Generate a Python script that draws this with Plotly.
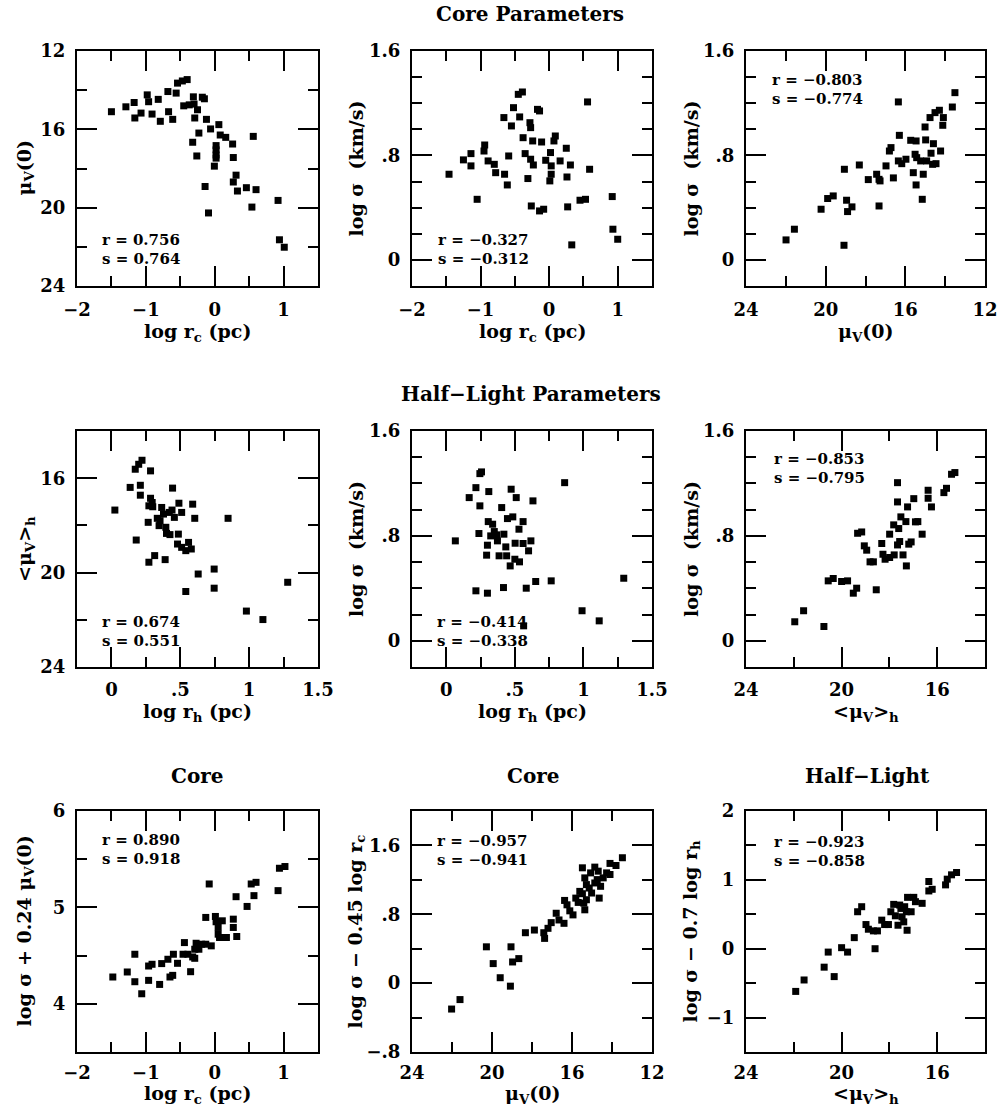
import plotly.graph_objects as go

FONT = "DejaVu Serif"
W, H = 1000, 1109

# ---------------- data ----------------
# Panel 1: log r_c vs mu_V(0)
p1_log_rc = [-1.50, -1.29, -1.17, -1.16, -1.07, -0.98, -0.96, -0.91, -0.82, -0.79, -0.68, -0.67, -0.61,
             -0.56, -0.54, -0.47, -0.40, -0.45, -0.37, -0.31, -0.30, -0.25, -0.29, -0.18, -0.15, -0.12,
             -0.23, -0.32, -0.26, -0.06, 0.06, 0.08, 0.16, 0.02, 0.02, 0.02, 0.02, -0.005, 0.26, 0.27,
             0.31, 0.27, 0.33, 0.46, 0.60, 0.56, -0.14, -0.09, 0.54, 0.92, 0.94, 1.01]
p1_mu0 = [15.10, 14.85, 14.63, 15.42, 15.17, 14.24, 14.59, 15.22, 14.47, 15.59, 14.07, 15.10, 15.49,
          14.15, 13.64, 13.53, 13.46, 14.80, 14.75, 14.34, 14.71, 15.00, 15.42, 14.36, 14.44, 15.49,
          16.19, 16.66, 17.36, 15.98, 15.76, 16.29, 16.41, 16.83, 17.05, 17.31, 17.47, 17.88, 16.75, 17.44,
          18.34, 18.69, 19.15, 18.98, 19.08, 16.36, 18.92, 20.27, 19.97, 19.63, 21.64, 22.02]

# Panel 2: log r_c vs log sigma
p2_log_rc = [-1.46, -1.25, -1.14, -1.14, -1.05, -0.94, -0.95, -0.89, -0.80, -0.78, -0.66, -0.65, -0.61,
             -0.59, -0.55, -0.52, -0.45, -0.39, -0.43, -0.38, -0.35, -0.31, -0.27, -0.28, -0.27, -0.24,
             -0.26, -0.23, -0.17, -0.14, -0.14, -0.11, -0.08, -0.05, 0.01, 0.02, 0.03, 0.03, 0.07, 0.09,
             0.16, 0.25, 0.26, 0.27, 0.31, 0.33, 0.45, 0.53, 0.56, 0.59, 0.92, 0.93, 1.00]
p2_log_sigma = [0.656, 0.766, 0.814, 0.720, 0.464, 0.880, 0.834, 0.758, 0.732, 0.668, 1.090, 0.656, 0.574,
                0.796, 1.026, 1.166, 1.268, 1.286, 1.095, 0.936, 0.814, 0.623, 0.771, 1.051, 1.013, 0.911,
                0.413, 0.727, 1.153, 1.141, 0.375, 0.903, 0.388, 0.763, 0.605, 0.822, 0.720, 0.656, 0.911, 0.949,
                0.758, 0.855, 0.635, 0.406, 0.727, 0.115, 0.457, 0.464, 1.210, 0.694, 0.485, 0.235, 0.158]

# Panel 3: mu_V(0) vs log sigma
p3_mu0 = [21.99, 21.57, 20.23, 19.90, 19.62, 19.06, 18.95, 18.90, 18.68, 19.08, 18.31, 17.86, 17.44,
          17.32, 17.27, 17.32, 16.97, 16.60, 16.80, 16.72, 16.35, 16.30, 16.35, 16.18, 15.97, 15.73,
          15.46, 15.60, 15.46, 15.51, 15.43, 15.23, 15.15, 15.10, 15.01, 14.98, 14.93, 14.71, 14.63,
          14.59, 14.46, 14.76, 14.51, 14.29, 14.09, 14.12, 14.23, 13.64, 13.51]
p3_log_sigma = [0.153, 0.235, 0.388, 0.470, 0.490, 0.694, 0.457, 0.370, 0.406, 0.112, 0.727, 0.615, 0.656,
                0.617, 0.605, 0.413, 0.720, 0.628, 0.834, 0.860, 1.210, 0.954, 0.758, 0.737, 0.771, 0.916,
                0.911, 0.668, 0.574, 0.809, 0.783, 0.758, 0.464, 0.656, 1.018, 0.919, 0.758, 0.817, 0.732,
                0.890, 0.737, 1.090, 1.128, 1.146, 1.090, 1.031, 0.834, 1.171, 1.281]

# Panel 4: log r_h vs <mu_V>_h
p4_log_rh = [0.025, 0.136, 0.173, 0.198, 0.222, 0.284, 0.210, 0.210, 0.180, 0.284, 0.296, 0.272, 0.300,
             0.267, 0.272, 0.314, 0.333, 0.353, 0.346, 0.365, 0.378, 0.395, 0.400, 0.390, 0.420, 0.425,
             0.440, 0.444, 0.457, 0.490, 0.486, 0.480, 0.510, 0.510, 0.540, 0.560, 0.580, 0.590, 0.605,
             0.540, 0.630, 0.746, 0.746, 0.847, 0.980, 1.100, 1.280]
p4_mu_h = [17.35, 16.39, 15.62, 15.41, 15.24, 15.69, 16.30, 16.72, 18.62, 16.85, 17.03, 17.17, 17.21,
           17.87, 19.56, 19.28, 17.70, 17.80, 18.01, 17.24, 17.52, 18.08, 18.34, 19.45, 17.45, 18.39,
           17.35, 16.42, 17.66, 17.06, 18.37, 18.79, 17.45, 18.93, 19.07, 18.72, 19.00, 17.10, 17.70,
           20.80, 20.06, 19.85, 20.66, 17.70, 21.63, 21.99, 20.41]

# Panel 5: log r_h vs log sigma
p5_log_rh = [0.066, 0.167, 0.216, 0.245, 0.257, 0.245, 0.238, 0.216, 0.300, 0.310, 0.306, 0.338, 0.350,
             0.324, 0.368, 0.300, 0.294, 0.373, 0.385, 0.404, 0.420, 0.417, 0.434, 0.440, 0.446, 0.473,
             0.485, 0.466, 0.500, 0.510, 0.502, 0.530, 0.534, 0.560, 0.560, 0.583, 0.600, 0.617, 0.632,
             0.652, 0.765, 0.863, 0.990, 1.115, 1.294, 0.564]
p5_log_sigma = [0.762, 1.092, 1.168, 1.275, 1.288, 1.029, 0.818, 0.381, 0.363, 1.138, 0.909, 0.889, 0.833,
                0.800, 0.808, 0.729, 0.653, 0.762, 0.648, 1.016, 0.813, 0.406, 0.716, 0.648, 0.932, 1.156,
                0.945, 0.571, 0.622, 1.092, 0.744, 0.851, 0.602, 0.909, 0.742, 0.401, 0.686, 0.762, 1.067,
                0.452, 0.457, 1.206, 0.229, 0.152, 0.477, 0.114]

# Panel 6: <mu_V>_h vs log sigma
p6_mu_h = [21.96, 21.59, 20.74, 20.56, 20.35, 20.00, 19.75, 19.51, 19.37, 19.33, 19.16, 19.05, 18.95,
           18.81, 18.67, 18.55, 18.32, 18.27, 18.18, 17.99, 17.99, 17.82, 17.80, 17.66, 17.66, 17.61,
           17.66, 17.57, 17.52, 17.43, 17.29, 17.31, 17.24, 17.19, 17.09, 16.98, 16.91, 16.81, 16.63,
           16.38, 16.38, 16.24, 15.72, 15.61, 15.40, 15.26]
p6_log_sigma = [0.145, 0.229, 0.109, 0.457, 0.475, 0.452, 0.457, 0.363, 0.401, 0.820, 0.830, 0.724, 0.691,
                0.602, 0.602, 0.389, 0.742, 0.660, 0.622, 0.635, 0.813, 0.884, 0.655, 1.206, 1.059, 0.856,
                0.731, 0.757, 0.945, 0.655, 0.571, 0.909, 1.021, 0.737, 0.754, 1.084, 0.907, 0.909, 0.813,
                1.148, 1.087, 1.021, 1.130, 1.163, 1.270, 1.283]

# Panel 7: log r_c vs log sigma + 0.24 mu_V(0)
p7_log_rc = [-1.48, -1.27, -1.16, -1.16, -1.06, -0.96, -0.96, -0.91, -0.80, -0.77, -0.68, -0.65, -0.61,
             -0.60, -0.54, -0.46, -0.44, -0.39, -0.35, -0.32, -0.29, -0.29, -0.27, -0.23, -0.19, -0.13,
             -0.13, -0.08, -0.05, 0.01, 0.02, 0.05, 0.05, 0.07, 0.17, 0.11, 0.27, 0.27, 0.32, 0.31,
             0.47, 0.53, 0.60, 0.57, 0.92, 0.94, 1.02]
p7_combo = [4.278, 4.330, 4.514, 4.229, 4.104, 4.392, 4.243, 4.410, 4.201, 4.417, 4.462, 4.278, 4.295,
            4.514, 4.420, 4.514, 4.635, 4.514, 4.333, 4.486, 4.472, 4.566, 4.628, 4.566, 4.618, 4.618,
            4.896, 5.243, 4.601, 4.906, 4.851, 4.792, 4.722, 4.688, 4.688, 4.861, 4.878, 4.792, 4.698, 5.111,
            5.010, 5.243, 5.260, 5.122, 5.174, 5.406, 5.424]

# Panel 8: mu_V(0) vs log sigma - 0.45 log r_c
p8_mu0 = [22.02, 21.60, 20.28, 19.94, 19.59, 19.08, 19.05, 18.97, 18.66, 18.33, 17.88, 17.41, 17.37,
          17.20, 17.04, 16.79, 16.65, 16.40, 16.37, 16.25, 16.11, 15.95, 15.81, 15.69, 15.61, 15.48,
          15.48, 15.41, 15.36, 15.28, 15.28, 15.14, 15.07, 15.02, 14.86, 14.86, 14.74, 14.64, 14.57,
          14.44, 14.27, 14.10, 14.10, 13.80, 13.48, 15.36, 14.69]
p8_combo = [-0.301, -0.191, 0.422, 0.227, 0.063, -0.035, 0.422, 0.246, 0.285, 0.586, 0.617, 0.586, 0.520,
            0.637, 0.703, 0.812, 0.734, 0.695, 0.961, 0.910, 0.840, 0.793, 0.988, 0.938, 1.066, 1.039,
            1.340, 0.930, 0.852, 0.969, 1.145, 1.105, 1.281, 1.047, 1.348, 1.164, 1.203, 0.988, 1.125,
            1.223, 1.281, 1.262, 1.391, 1.367, 1.457, 1.223, 1.301]

# Panel 9: <mu_V>_h vs log sigma - 0.7 log r_h
p9_mu_h = [21.92, 21.57, 20.73, 20.56, 20.31, 20.00, 19.75, 19.47, 19.33, 19.16, 18.98, 18.88, 18.67,
           18.50, 18.60, 18.32, 18.20, 18.04, 17.94, 17.82, 17.75, 17.64, 17.57, 17.52, 17.47, 17.40,
           17.26, 17.29, 17.24, 17.09, 16.98, 16.91, 16.63, 16.35, 16.35, 16.21, 15.65, 15.58, 15.40,
           15.19, 17.36]
p9_combo = [-0.620, -0.454, -0.268, -0.049, -0.405, 0.015, -0.049, 0.161, 0.537, 0.610, 0.351, 0.283, 0.259,
            0.259, 0.000, 0.415, 0.351, 0.351, 0.537, 0.644, 0.478, 0.341, 0.634, 0.585, 0.463, 0.390,
            0.268, 0.537, 0.746, 0.537, 0.746, 0.683, 0.659, 0.976, 0.839, 0.863, 0.927, 1.010, 1.073,
            1.107, 0.610]

# correlation statistics
stats_r = ["0.756", "\u22120.327", "\u22120.803", "0.674", "\u22120.414", "\u22120.853",
           "0.890", "\u22120.957", "\u22120.923"]
stats_s = ["0.764", "\u22120.312", "\u22120.774", "0.551", "\u22120.338", "\u22120.795",
           "0.918", "\u22120.941", "\u22120.858"]

# ---------------- axis definitions ----------------
M = "\u2212"
ax_logrc = dict(range=[-2, 1.5], major=[-2, -1, 0, 1], labels=[M + "2", M + "1", "0", "1"],
                minor=[-1.5, -0.5, 0.5])
ax_logrh = dict(range=[-0.25, 1.5], major=[0, 0.5, 1, 1.5], labels=["0", ".5", "1", "1.5"],
                minor=[0.25, 0.75, 1.25])
ax_mu12 = dict(range=[24, 12], major=[24, 20, 16, 12], labels=["24", "20", "16", "12"],
               minor=[22, 18, 14])
ax_mu14 = dict(range=[24, 14], major=[24, 20, 16], labels=["24", "20", "16"], minor=[22, 18])
ax_mu_y = dict(range=[24, 12], major=[12, 16, 20, 24], labels=["12", "16", "20", "24"],
               minor=[14, 18, 22])
ax_muh_y = dict(range=[24, 14], major=[16, 20, 24], labels=["16", "20", "24"], minor=[18, 22])
ax_sig = dict(range=[-0.2, 1.6], major=[0, 0.8, 1.6], labels=["0", ".8", "1.6"],
              minor=[0.2, 0.4, 0.6, 1.0, 1.2, 1.4])
ax_p7 = dict(range=[3.5, 6], major=[4, 5, 6], labels=["4", "5", "6"], minor=[4.5, 5.5])
ax_p8 = dict(range=[-0.8, 2.0], major=[-0.8, 0, 0.8, 1.6], labels=[M + ".8", "0", ".8", "1.6"],
             minor=[-0.4, 0.4, 1.2])
ax_p9 = dict(range=[-1.5, 2], major=[-1, 0, 1, 2], labels=[M + "1", "0", "1", "2"],
             minor=[-0.5, 0.5, 1.5])

LRC = "log r<sub>c</sub> (pc)"
LRH = "log r<sub>h</sub> (pc)"
MU0 = "\u03bc<sub>V</sub>(0)"
MUH = "&lt;\u03bc<sub>V</sub>&gt;<sub>h</sub>"
LSIG = "log \u03c3  (km/s)"

panels = [
    (p1_log_rc, p1_mu0, ax_logrc, ax_mu_y, LRC, MU0),
    (p2_log_rc, p2_log_sigma, ax_logrc, ax_sig, LRC, LSIG),
    (p3_mu0, p3_log_sigma, ax_mu12, ax_sig, MU0, LSIG),
    (p4_log_rh, p4_mu_h, ax_logrh, ax_muh_y, LRH, MUH),
    (p5_log_rh, p5_log_sigma, ax_logrh, ax_sig, LRH, LSIG),
    (p6_mu_h, p6_log_sigma, ax_mu14, ax_sig, MUH, LSIG),
    (p7_log_rc, p7_combo, ax_logrc, ax_p7, LRC, "log \u03c3 + 0.24 \u03bc<sub>V</sub>(0)"),
    (p8_mu0, p8_combo, ax_mu12, ax_p8, MU0, "log \u03c3 \u2212 0.45 log r<sub>c</sub>"),
    (p9_mu_h, p9_combo, ax_mu14, ax_p9, MUH, "log \u03c3 \u2212 0.7 log r<sub>h</sub>"),
]

# pixel layout of the panel boxes (page pixels)
cols = [(77, 318), (412, 652), (746, 985)]
rows = [(51, 286), (431, 667), (811, 1052)]
# stats text position (left x, y of r line)
stat_pos = [(100, 240), (436, 240), (770, 80),
            (100, 622), (435, 622), (772, 459),
            (100, 840), (435, 841), (772, 842)]
ytitle_x = [25, 356, 691]
xtitle_y = [332, 712, 1094]
xlabel_standoff = [6, 5, 3]

fig = go.Figure()


def px(x):
    return x / W


def py(y):
    return 1 - y / H


def axis_dict(spec, domain, anchor, tickfont, standoff):
    return dict(
        domain=domain, anchor=anchor, range=spec["range"], automargin=False,
        tickmode="array", tickvals=spec["major"], ticktext=spec["labels"],
        ticks="inside", ticklen=20, tickwidth=2, tickcolor="black",
        minor=dict(tickmode="array", tickvals=spec["minor"], ticks="inside",
                   ticklen=10, tickwidth=2, tickcolor="black", showgrid=False),
        showline=True, linewidth=2, linecolor="black", mirror="ticks",
        showgrid=False, zeroline=False, tickfont=tickfont, ticklabelstandoff=standoff,
    )


tickfont = dict(family=FONT, size=18, color="black", weight="bold")
annots = []

for i, (xs, ys, xspec, yspec, xtitle, ytitle) in enumerate(panels):
    r, c = divmod(i, 3)
    n = "" if i == 0 else str(i + 1)
    fig.add_trace(go.Scatter(
        x=xs, y=ys, mode="markers", xaxis="x" + n, yaxis="y" + n,
        marker=dict(symbol="square", size=7, color="black", line=dict(width=0)),
        showlegend=False, hoverinfo="x+y"))
    (x0, x1), (y0, y1) = cols[c], rows[r]
    fig.update_layout({
        "xaxis" + n: axis_dict(xspec, [px(x0), px(x1)], "y" + n, tickfont, xlabel_standoff[r]),
        "yaxis" + n: axis_dict(yspec, [py(y1), py(y0)], "x" + n, tickfont, 6),
    })
    # axis titles
    annots.append(dict(text=xtitle, x=px((x0 + x1) / 2), y=py(xtitle_y[r]), xref="paper", yref="paper",
                       showarrow=False, xanchor="center", yanchor="middle",
                       font=dict(family=FONT, size=19, color="black", weight="bold")))
    annots.append(dict(text=ytitle, x=px(ytitle_x[c]), y=py((y0 + y1) / 2), xref="paper", yref="paper",
                       showarrow=False, xanchor="center", yanchor="middle", textangle=-90,
                       font=dict(family=FONT, size=19, color="black", weight="bold")))
    # statistics
    sx, sy = stat_pos[i]
    for k, txt in enumerate(["r = " + stats_r[i], "s = " + stats_s[i]]):
        annots.append(dict(text=txt, x=px(sx), y=py(sy + 19 * k), xref="paper", yref="paper",
                           showarrow=False, xanchor="left", yanchor="middle",
                           font=dict(family=FONT, size=15, color="black", weight="bold")))

titles = [("Core Parameters", 530, 14), ("Half\u2212Light Parameters", 531, 394),
          ("Core", 197, 776), ("Core", 533, 776), ("Half\u2212Light", 867, 776)]
for txt, tx, ty in titles:
    annots.append(dict(text=txt, x=px(tx), y=py(ty), xref="paper", yref="paper", showarrow=False,
                       xanchor="center", yanchor="middle",
                       font=dict(family=FONT, size=20, color="black", weight="bold")))

fig.update_layout(
    width=W, height=H, margin=dict(l=0, r=0, t=0, b=0, autoexpand=False),
    paper_bgcolor="white", plot_bgcolor="white",
    annotations=annots, showlegend=False,
)

fig.write_html("out.html", config={"displayModeBar": False},
               post_script="document.body.style.margin='0';document.body.style.overflow='hidden';")
